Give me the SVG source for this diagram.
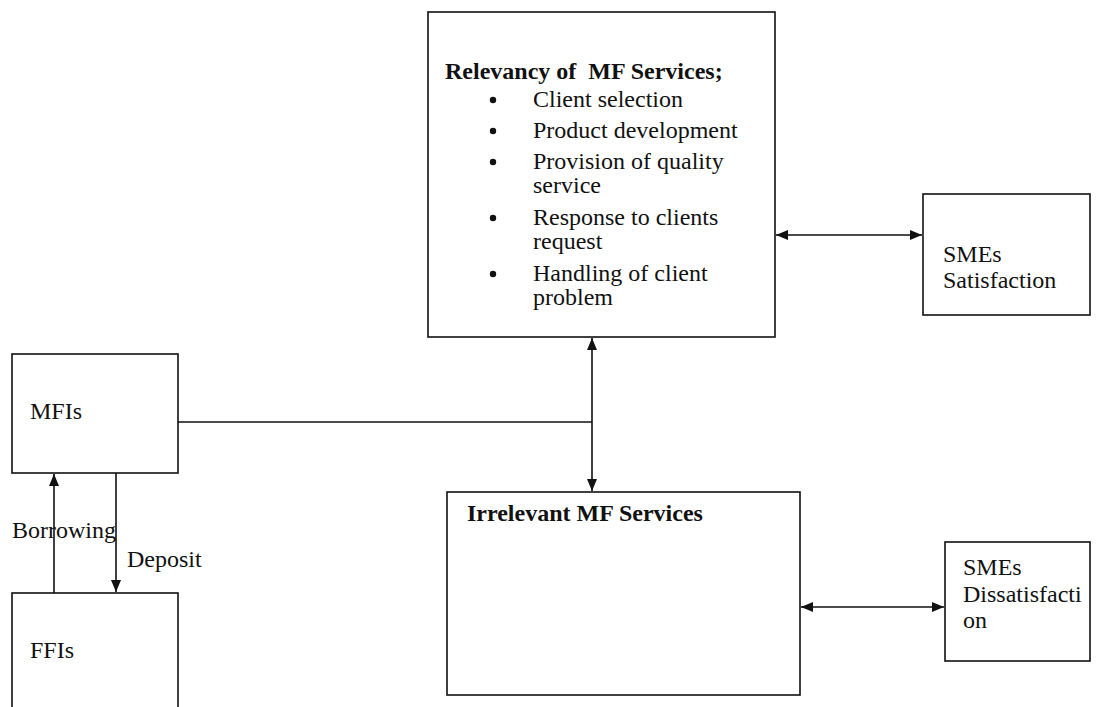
<svg xmlns="http://www.w3.org/2000/svg" width="1098" height="707" viewBox="0 0 1098 707">
<style>
.box{fill:#fff;stroke:#111;stroke-width:1.6}
.t{font-family:"Liberation Serif","Times New Roman",serif;font-size:24px;fill:#111}
.b{font-weight:bold}
.c{fill:none;stroke:#111;stroke-width:1.6}
</style>
<defs>
<marker id="ah" viewBox="0 0 12 10" refX="12" refY="5" markerWidth="12" markerHeight="10" markerUnits="userSpaceOnUse" orient="auto-start-reverse">
<path d="M0,0 L12,5 L0,10 Z" fill="#111"/>
</marker>
</defs>
<rect width="1098" height="707" fill="#fff"/>
<g id="relevancy">
<rect class="box" x="428" y="12" width="347" height="325"/>
<text class="t b" x="445" y="79" xml:space="preserve">Relevancy of  MF Services;</text>
<g fill="#111">
<circle cx="493" cy="100" r="3.2"/>
<circle cx="493" cy="131" r="3.2"/>
<circle cx="493" cy="162" r="3.2"/>
<circle cx="493" cy="218" r="3.2"/>
<circle cx="493" cy="274" r="3.2"/>
</g>
<text class="t" x="533" y="107">Client selection</text>
<text class="t" x="533" y="138">Product development</text>
<text class="t" x="533" y="169">Provision of quality</text>
<text class="t" x="533" y="193">service</text>
<text class="t" x="533" y="225">Response to clients</text>
<text class="t" x="533" y="249">request</text>
<text class="t" x="533" y="281">Handling of client</text>
<text class="t" x="533" y="305">problem</text>
</g>
<g id="sat">
<rect class="box" x="923" y="194" width="167" height="121"/>
<text class="t" x="943" y="262">SMEs</text>
<text class="t" x="943" y="288">Satisfaction</text>
</g>
<g id="mfis">
<rect class="box" x="12" y="354" width="166" height="119"/>
<text class="t" x="30" y="419">MFIs</text>
</g>
<g id="ffis">
<rect class="box" x="12" y="593" width="166" height="130"/>
<text class="t" x="30" y="658">FFIs</text>
</g>
<g id="irrelevant">
<rect class="box" x="447" y="492" width="353" height="203"/>
<text class="t b" x="467" y="521">Irrelevant MF Services</text>
</g>
<g id="dissat">
<rect class="box" x="945" y="542" width="145" height="119"/>
<text class="t" x="963" y="575">SMEs</text>
<text class="t" x="963" y="602">Dissatisfacti</text>
<text class="t" x="963" y="628">on</text>
</g>
<g id="labels">
<text class="t" x="12" y="538">Borrowing</text>
<text class="t" x="127" y="567">Deposit</text>
</g>
<g id="connectors">
<line class="c" x1="776" y1="235" x2="922" y2="235" marker-start="url(#ah)" marker-end="url(#ah)"/>
<line class="c" x1="801" y1="607" x2="944" y2="607" marker-start="url(#ah)" marker-end="url(#ah)"/>
<line class="c" x1="178" y1="422" x2="592" y2="422"/>
<line class="c" x1="592" y1="338" x2="592" y2="491" marker-start="url(#ah)" marker-end="url(#ah)"/>
<line class="c" x1="54" y1="593" x2="54" y2="474" marker-end="url(#ah)"/>
<line class="c" x1="116" y1="473" x2="116" y2="592" marker-end="url(#ah)"/>
</g>
</svg>
